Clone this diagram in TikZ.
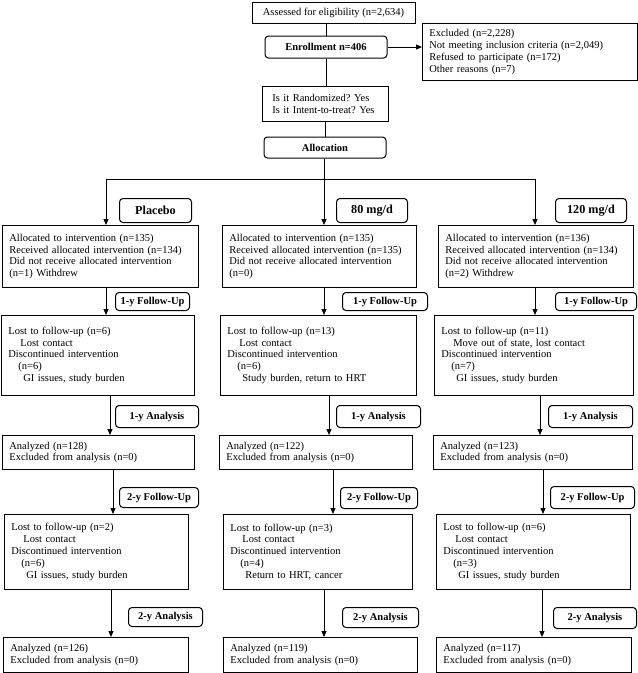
\documentclass[tikz,border=0pt]{standalone}
\usepackage{fontspec}
\setmainfont{Liberation Serif}
\usetikzlibrary{arrows.meta}
\frenchspacing
\newcommand{\fs}{\fontsize{10.5}{11.8}\selectfont}
\newcommand{\fg}{\fontsize{12.2}{13}\selectfont}
\newcommand{\ia}{\hspace*{12pt}}
\newcommand{\ib}{\hspace*{10pt}}
\newcommand{\ic}{\hspace*{15pt}}
\tikzset{
  box/.style={draw, line width=0.8pt, anchor=north west, align=left, inner xsep=7pt, inner ysep=2pt, font=\fs},
  cbox/.style={draw, line width=0.8pt, align=center, inner sep=2pt, font=\fs},
  rbox/.style={draw, line width=1pt, rounded corners=3.5pt, align=center, inner sep=2pt, font=\fs\bfseries},
  tag/.style={draw, line width=1pt, rounded corners=3.5pt, anchor=north west, inner sep=0pt, font=\fs\bfseries},
  gtag/.style={tag, font=\fg\bfseries},
  arr/.style={line width=1pt, -{Triangle[length=6pt,width=5pt]}},
  ln/.style={line width=1pt},
}
\begin{document}
\begin{tikzpicture}[x=1pt,y=-1pt]
\useasboundingbox (0,0) rectangle (638,673);
% top part
\node[cbox, minimum width=163, minimum height=21] (top) at (333.5,12.5) {Assessed for eligibility (n=2,634)};
\node[rbox, minimum width=122, minimum height=22] (enroll) at (326,47) {Enrollment n=406};
\node[box, text width=201, minimum height=57] (excl) at (422,23) {Excluded (n=2,228)\\Not meeting inclusion criteria (n=2,049)\\Refused to participate (n=172)\\Other reasons (n=7)};
\node[box, text width=106, inner xsep=10pt, minimum height=35] (rand) at (262,86) {Is it Randomized? Yes\\Is it Intent-to-treat? Yes};
\node[rbox, minimum width=122, minimum height=21] (alloc) at (325,147.5) {Allocation};
% group tags
\node[gtag, minimum width=72, minimum height=24] (lp0) at (119,198) {Placebo};
\node[gtag, minimum width=71, minimum height=24] (lm0) at (336,198) {80 mg/d};
\node[gtag, minimum width=71, minimum height=24] (lr0) at (555,198) {120 mg/d};
% row 1
\node[box, text width=182, minimum height=62] (p1) at (2,225) {Allocated to intervention (n=135)\\Received allocated intervention (n=134)\\Did not receive allocated intervention\\(n=1) Withdrew};
\node[box, text width=180, minimum height=62] (m1) at (222,225) {Allocated to intervention (n=135)\\Received allocated intervention (n=135)\\Did not receive allocated intervention\\(n=0)};
\node[box, text width=181, minimum height=62] (r1) at (438,225) {Allocated to intervention (n=136)\\Received allocated intervention (n=134)\\Did not receive allocated intervention\\(n=2) Withdrew};
% 1-y follow-up tags
\node[tag, minimum width=74, minimum height=18] (lp1) at (115,292) {1-y Follow-Up};
\node[tag, minimum width=85, minimum height=18] (lm1) at (342,292) {1-y Follow-Up};
\node[tag, minimum width=81, minimum height=18] (lr1) at (555,292) {1-y Follow-Up};
% row 2
\node[box, text width=179, minimum height=80] (p2) at (1,315) {Lost to follow-up (n=6)\\\ia Lost contact\\Discontinued intervention\\\ib(n=6)\\\ic GI issues, study burden};
\node[box, text width=182, minimum height=80] (m2) at (220,315) {Lost to follow-up (n=13)\\\ia Lost contact\\Discontinued intervention\\\ib(n=6)\\\ic Study burden, return to HRT};
\node[box, text width=185, minimum height=80] (r2) at (434,315) {Lost to follow-up (n=11)\\\ia Move out of state, lost contact\\Discontinued intervention\\\ib(n=7)\\\ic GI issues, study burden};
% 1-y analysis tags
\node[tag, minimum width=83, minimum height=22] (lp2) at (115,405) {1-y Analysis};
\node[tag, minimum width=84, minimum height=22] (lm2) at (336,405) {1-y Analysis};
\node[tag, minimum width=84, minimum height=22] (lr2) at (548,405) {1-y Analysis};
% row 3
\node[box, text width=178, minimum height=34] (p3) at (2,435) {Analyzed (n=128)\\Excluded from analysis (n=0)};
\node[box, text width=179, minimum height=34] (m3) at (219,435) {Analyzed (n=122)\\Excluded from analysis (n=0)};
\node[box, text width=185, minimum height=34] (r3) at (433,435) {Analyzed (n=123)\\Excluded from analysis (n=0)};
% 2-y follow-up tags
\node[tag, minimum width=79, minimum height=20] (lp3) at (119,487) {2-y Follow-Up};
\node[tag, minimum width=77, minimum height=21] (lm3) at (340,487) {2-y Follow-Up};
\node[tag, minimum width=84, minimum height=22] (lr3) at (550,486) {2-y Follow-Up};
% row 4
\node[box, text width=170, minimum height=75] (p4) at (4,514) {Lost to follow-up (n=2)\\\ia Lost contact\\Discontinued intervention\\\ib(n=6)\\\ic GI issues, study burden};
\node[box, text width=175, minimum height=75] (m4) at (223,514) {Lost to follow-up (n=3)\\\ia Lost contact\\Discontinued intervention\\\ib(n=4)\\\ic Return to HRT, cancer};
\node[box, text width=180, minimum height=75] (r4) at (436,514) {Lost to follow-up (n=6)\\\ia Lost contact\\Discontinued intervention\\\ib(n=3)\\\ic GI issues, study burden};
% 2-y analysis tags
\node[tag, minimum width=74, minimum height=19] (lp4) at (128,607) {2-y Analysis};
\node[tag, minimum width=76, minimum height=20] (lm4) at (342,607) {2-y Analysis};
\node[tag, minimum width=83, minimum height=21] (lr4) at (553,607) {2-y Analysis};
% row 5
\node[box, text width=171, minimum height=35] (p5) at (3,637) {Analyzed (n=126)\\Excluded from analysis (n=0)};
\node[box, text width=180, minimum height=35] (m5) at (223,637) {Analyzed (n=119)\\Excluded from analysis (n=0)};
\node[box, text width=181, minimum height=35] (r5) at (436,637) {Analyzed (n=117)\\Excluded from analysis (n=0)};
% connectors top
\draw[ln] (enroll.north) -- (enroll.north |- top.south);
\draw[arr] (enroll.east) -- (excl.west |- enroll.east);
\draw[ln] (enroll.south) -- (enroll.south |- rand.north);
\draw[ln] (alloc.north |- rand.south) -- (alloc.north);
\coordinate (hl) at (106,179);
\coordinate (hr) at (535,179);
\coordinate (hm) at (324,179);
\draw[ln] (alloc.south -| hm) -- (hm);
\draw[ln] (hl) -- (hr);
\draw[arr] (hl) -- (hl |- p1.north);
\draw[arr] (hm) -- (hm |- m1.north);
\draw[arr] (hr) -- (hr |- r1.north);
% column x positions
\coordinate (pa) at (106,0); \coordinate (pb) at (110,0); \coordinate (pc) at (113,0); \coordinate (pd) at (111,0);
\coordinate (ma) at (324,0); \coordinate (mb) at (329,0); \coordinate (mc) at (333,0); \coordinate (md) at (324,0);
\coordinate (ra) at (535,0); \coordinate (rb) at (540,0); \coordinate (rc) at (543,0); \coordinate (rd) at (542,0);
\draw[arr] (pa |- p1.south) -- (pa |- p2.north);
\draw[arr] (pb |- p2.south) -- (pb |- p3.north);
\draw[arr] (pc |- p3.south) -- (pc |- p4.north);
\draw[arr] (pd |- p4.south) -- (pd |- p5.north);
\draw[arr] (ma |- m1.south) -- (ma |- m2.north);
\draw[arr] (mb |- m2.south) -- (mb |- m3.north);
\draw[arr] (mc |- m3.south) -- (mc |- m4.north);
\draw[arr] (md |- m4.south) -- (md |- m5.north);
\draw[arr] (ra |- r1.south) -- (ra |- r2.north);
\draw[arr] (rb |- r2.south) -- (rb |- r3.north);
\draw[arr] (rc |- r3.south) -- (rc |- r4.north);
\draw[arr] (rd |- r4.south) -- (rd |- r5.north);
\end{tikzpicture}
\end{document}
